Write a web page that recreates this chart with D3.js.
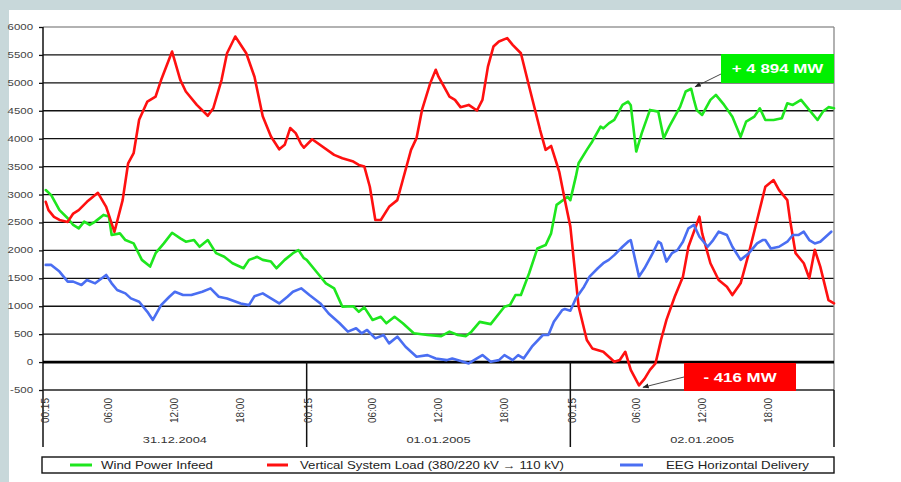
<!DOCTYPE html>
<html><head><meta charset="utf-8">
<script src="https://cdn.jsdelivr.net/npm/d3@7"></script>
<style>
html,body{margin:0;padding:0;background:#c8d8da;}
svg{display:block;font-family:"Liberation Sans",Arial,sans-serif;}
</style></head>
<body>
<svg id="chart" width="901" height="482"></svg>
<script>
// ---- data: [hours since 31.12.2004 00:00, MW] ----
const windPower = [
[0.25,3080],[0.75,2990],[1,2900],[1.5,2720],[2.25,2575],[2.75,2455],[3.25,2395],[3.75,2515],[4.25,2455],[4.75,2515],
[5.5,2635],[6,2605],[6.25,2275],[7,2305],[7.5,2185],[8.25,2125],[9,1830],[9.75,1710],[10.25,1950],[11,2125],
[11.75,2315],[12.5,2215],[13,2155],[13.75,2185],[14.25,2065],[15,2185],[15.75,1950],[16.5,1885],[17.25,1770],[18.25,1680],
[18.75,1830],[19.5,1885],[20,1830],[20.75,1800],[21.25,1680],[22,1830],[22.75,1950],[23.25,2005],[23.75,1860],[24,1830],
[25,1590],[25.75,1410],[26.5,1320],[27.25,990],[28.25,1000],[28.75,900],[29.25,980],[30,755],[30.75,810],[31.25,695],
[32,810],[32.75,695],[33.75,515],[35,485],[36.25,465],[37,545],[37.75,485],[38.5,465],[39,545],[39.75,720],
[40.75,680],[42,990],[42.5,1020],[43,1200],[43.5,1200],[44.25,1590],[45,2035],[45.75,2095],[46.25,2305],[46.75,2815],
[47.75,2960],[48,2900],[48.5,3320],[48.75,3560],[49.5,3800],[50,3950],[50.75,4215],[51,4185],[51.5,4275],[52,4335],
[52.75,4605],[53.25,4665],[53.5,4600],[54,3770],[54.5,4100],[55.25,4515],[56,4485],[56.5,4010],[57,4215],[57.5,4395],
[58,4575],[58.5,4845],[59,4894],[59.25,4695],[59.5,4515],[60,4425],[60.75,4695],[61.25,4785],[62,4605],[62.75,4395],
[63.5,4035],[64,4305],[64.75,4395],[65.25,4545],[65.75,4335],[66.5,4335],[67.25,4365],[67.75,4635],[68.25,4605],[69,4695],
[69.5,4575],[70.5,4335],[71,4485],[71.5,4565],[72,4545]
];
const verticalLoad = [
[0.25,2870],[0.5,2720],[1,2600],[1.5,2545],[2.25,2510],[2.75,2660],[3.25,2720],[4,2870],[5,3030],[5.75,2780],
[6.5,2330],[7.25,2900],[7.75,3560],[8.25,3740],[8.75,4340],[9.5,4665],[10.25,4755],[10.75,5050],[11.75,5560],[12.5,5050],
[13,4845],[14,4605],[15,4410],[15.5,4545],[16.25,5050],[16.75,5530],[17.5,5830],[18.5,5530],[19.25,5110],[20,4400],
[20.75,4040],[21.5,3810],[22,3890],[22.5,4190],[23,4100],[23.5,3900],[23.75,3840],[24.5,3990],[26.5,3710],[27.25,3650],
[28.25,3590],[28.75,3530],[29.25,3500],[29.75,3140],[30.25,2545],[30.75,2545],[31.5,2780],[32.25,2900],[32.75,3260],[33.5,3800],
[34,4010],[34.5,4515],[35.25,4995],[35.75,5235],[36,5110],[37,4755],[37.5,4695],[38,4565],[38.75,4605],[39.5,4505],
[40,4695],[40.5,5290],[41,5650],[41.5,5740],[42.25,5800],[42.75,5680],[43.5,5530],[44.25,4935],[45.25,4155],[45.75,3800],
[46.25,3870],[46.75,3560],[47,3400],[47.5,2900],[48,2430],[48.25,1950],[48.75,1000],[49.5,395],[50,245],[51,185],
[52,5],[52.5,36],[53,185],[53.5,-140],[54.25,-416],[54.75,-300],[55.25,-140],[55.75,-25],[56.25,395],[56.75,755],
[57.5,1170],[58.25,1530],[58.75,2065],[59.75,2605],[60,2305],[60.75,1770],[61.5,1470],[62.25,1350],[62.75,1200],[63.5,1410],
[64.25,1950],[65,2545],[65.75,3140],[66.5,3260],[67,3080],[67.75,2900],[68,2545],[68.5,1950],[69.25,1770],[69.75,1500],
[70.25,2010],[70.75,1710],[71.5,1110],[72,1050]
];
const eegDelivery = [
[0.25,1740],[0.75,1740],[1.5,1620],[2.25,1440],[2.75,1440],[3.5,1380],[4,1470],[4.75,1410],[5.75,1560],[6.25,1410],
[6.75,1290],[7.5,1230],[8,1140],[8.75,1080],[9.5,900],[10,755],[10.75,1020],[11.5,1170],[12,1260],[12.75,1200],
[13.5,1200],[14.5,1260],[15.25,1320],[16,1170],[16.75,1140],[18,1050],[18.75,1020],[19.25,1180],[20,1230],[20.75,1140],
[21.5,1050],[22.25,1170],[22.75,1260],[23.5,1320],[24.25,1200],[25.25,1050],[26,870],[27,695],[27.75,545],[28.5,605],
[29,515],[29.5,575],[30.25,425],[31,485],[31.5,335],[32.25,455],[33,275],[34,95],[35,125],[35.75,65],
[36.75,35],[37.25,65],[38.25,5],[38.75,-25],[39.5,65],[40,125],[40.75,5],[41.5,35],[42,125],[42.75,35],
[43.25,125],[43.75,65],[44.5,275],[45.5,485],[46,485],[46.5,720],[47.25,930],[47.5,950],[48,920],[48.5,1140],
[49.25,1350],[49.75,1530],[50.5,1680],[51,1770],[51.5,1830],[52,1915],[52.75,2065],[53.25,2155],[53.5,2185],[54.25,1530],
[54.75,1680],[55.5,1950],[56,2155],[56.25,2125],[56.75,1800],[57.25,1950],[57.75,2005],[58.25,2155],[58.75,2395],[59.25,2455],
[59.75,2245],[60.5,2065],[61,2185],[61.5,2335],[62.25,2275],[62.75,2065],[63.5,1830],[64.25,1950],[65,2125],[65.5,2185],
[65.75,2185],[66.25,2035],[67,2065],[67.75,2155],[68.25,2275],[68.75,2275],[69.25,2335],[69.75,2185],[70.25,2125],[70.75,2155],
[71.25,2245],[71.75,2335]
];
const yTicks = [-500,0,500,1000,1500,2000,2500,3000,3500,4000,4500,5000,5500,6000];
const dayLabels = ["31.12.2004","01.01.2005","02.01.2005"];
const hourTicks = [0,6,12,18];
const hourLabels = ["00:15","06:00","12:00","18:00"];
const seriesNames = ["Wind Power Infeed","Vertical System Load (380/220 kV \u2192 110 kV)","EEG Horizontal Delivery"];
const peakWind = {label:"+ 4 894 MW", hour:59, value:4894};
const minLoad = {label:"- 416 MW", hour:54.25, value:-416};

// ---- drawing ----
const svg = d3.select("#chart");
const GREEN="#1ee61e", RED="#ff1010", BLUE="#4a6ef2";
const x = d3.scaleLinear().domain([0,72]).range([43,834]);
const y = d3.scaleLinear().domain([-500,6000]).range([390,27]);

svg.append("rect").attr("x",9).attr("y",10).attr("width",892).attr("height",472).attr("fill","#ffffff");

// gridlines
svg.append("g").selectAll("line").data(yTicks.filter(v=>v!==6000 && v!==0 && v!==-500)).join("line")
  .attr("x1",43).attr("x2",834).attr("y1",d=>y(d)).attr("y2",d=>y(d))
  .attr("stroke","#111").attr("stroke-width",1.3);
svg.append("line").attr("x1",43).attr("x2",834).attr("y1",y(6000)).attr("y2",y(6000)).attr("stroke","#999").attr("stroke-width",1.3);
svg.append("line").attr("x1",834).attr("x2",834).attr("y1",y(6000)).attr("y2",y(-500)).attr("stroke","#888").attr("stroke-width",1.3);

// y axis
const yAxis = d3.axisLeft(y).tickValues(yTicks).tickSize(4).tickFormat("");
const ga = svg.append("g").attr("transform","translate(43,0)").call(yAxis);
ga.select(".domain").remove();
ga.selectAll(".tick line").attr("stroke","#111").attr("stroke-width",1.3);
svg.append("line").attr("x1",43).attr("x2",43).attr("y1",y(6000)).attr("y2",447).attr("stroke","#111").attr("stroke-width",1.5);
svg.append("g").selectAll("text").data(yTicks).join("text")
  .attr("transform",d=>`translate(33,${y(d)+3}) scale(1.35,1)`)
  .attr("text-anchor","end").attr("font-size",8.5).attr("fill","#444").text(d=>d);

// zero & bottom
svg.append("line").attr("x1",43).attr("x2",834).attr("y1",y(0)).attr("y2",y(0)).attr("stroke","#000").attr("stroke-width",2.6);
svg.append("line").attr("x1",43).attr("x2",834).attr("y1",y(-500)).attr("y2",y(-500)).attr("stroke","#222").attr("stroke-width",1.5);

// day dividers + labels
[24,48,72].forEach(h=>{
  svg.append("line").attr("x1",x(h)).attr("x2",x(h)).attr("y1",h===72?y(-500):y(0)).attr("y2",447).attr("stroke","#111").attr("stroke-width",1.5);
});
dayLabels.forEach((lab,i)=>{
  svg.append("text").attr("transform",`translate(${x(i*24+12)},443) scale(1.35,1)`)
    .attr("text-anchor","middle").attr("font-size",9.5).attr("fill","#333").text(lab);
  hourTicks.forEach((h,j)=>{
    const hx = x(i*24+h) + (j===0?2:0);
    svg.append("text").attr("transform",`translate(${hx},398) rotate(-90)`)
      .attr("dy","0.35em").attr("text-anchor","end").attr("font-size",10).attr("fill","#333").text(hourLabels[j]);
  });
});

// series
const line = d3.line().x(d=>x(d[0])).y(d=>y(d[1]));
[[windPower,GREEN],[verticalLoad,RED],[eegDelivery,BLUE]].forEach(([data,c])=>{
  svg.append("path").datum(data).attr("d",line).attr("fill","none").attr("stroke",c)
    .attr("stroke-width",2.6).attr("stroke-linejoin","round").attr("stroke-linecap","round");
});

// annotations
svg.append("defs").append("marker").attr("id","ah").attr("viewBox","0 0 10 10").attr("refX",9).attr("refY",5)
  .attr("markerWidth",7).attr("markerHeight",7).attr("orient","auto")
  .append("path").attr("d","M0,1 L10,5 L0,9 z").attr("fill","#222");
function annot(a, box, color, from, off){
  svg.append("line").attr("x1",from[0]).attr("y1",from[1]).attr("x2",x(a.hour)+off[0]).attr("y2",y(a.value)+off[1])
    .attr("stroke","#333").attr("stroke-width",0.9).attr("marker-end","url(#ah)");
  svg.append("rect").attr("x",box[0]).attr("y",box[1]).attr("width",box[2]).attr("height",box[3]).attr("fill",color);
  svg.append("text").attr("transform",`translate(${box[0]+box[2]/2},${box[1]+box[3]/2+4.5}) scale(1.3,1)`)
    .attr("text-anchor","middle").attr("font-size",13).attr("font-weight","bold").attr("fill","#fff").text(a.label);
}
annot(peakWind,[721,54,113,29],"#00f000",[721,74],[4,-2]);
annot(minLoad,[684,363,112,28],"#ff0000",[684,377],[4,2]);

// legend
svg.append("rect").attr("x",42).attr("y",457).attr("width",792).attr("height",16).attr("fill","#fff").attr("stroke","#111").attr("stroke-width",1.4);
const legItems = [[70,92,101,112,GREEN],[267,288,300,264,RED],[620,643,666,143,BLUE]];
legItems.forEach((it,i)=>{
  svg.append("line").attr("x1",it[0]).attr("x2",it[1]).attr("y1",465).attr("y2",465).attr("stroke",it[4]).attr("stroke-width",3);
  svg.append("text").attr("x",it[2]).attr("y",469).attr("font-size",10.5).attr("fill","#222")
    .attr("textLength",it[3]).attr("lengthAdjust","spacingAndGlyphs").text(seriesNames[i]);
});
</script>
</body></html>
